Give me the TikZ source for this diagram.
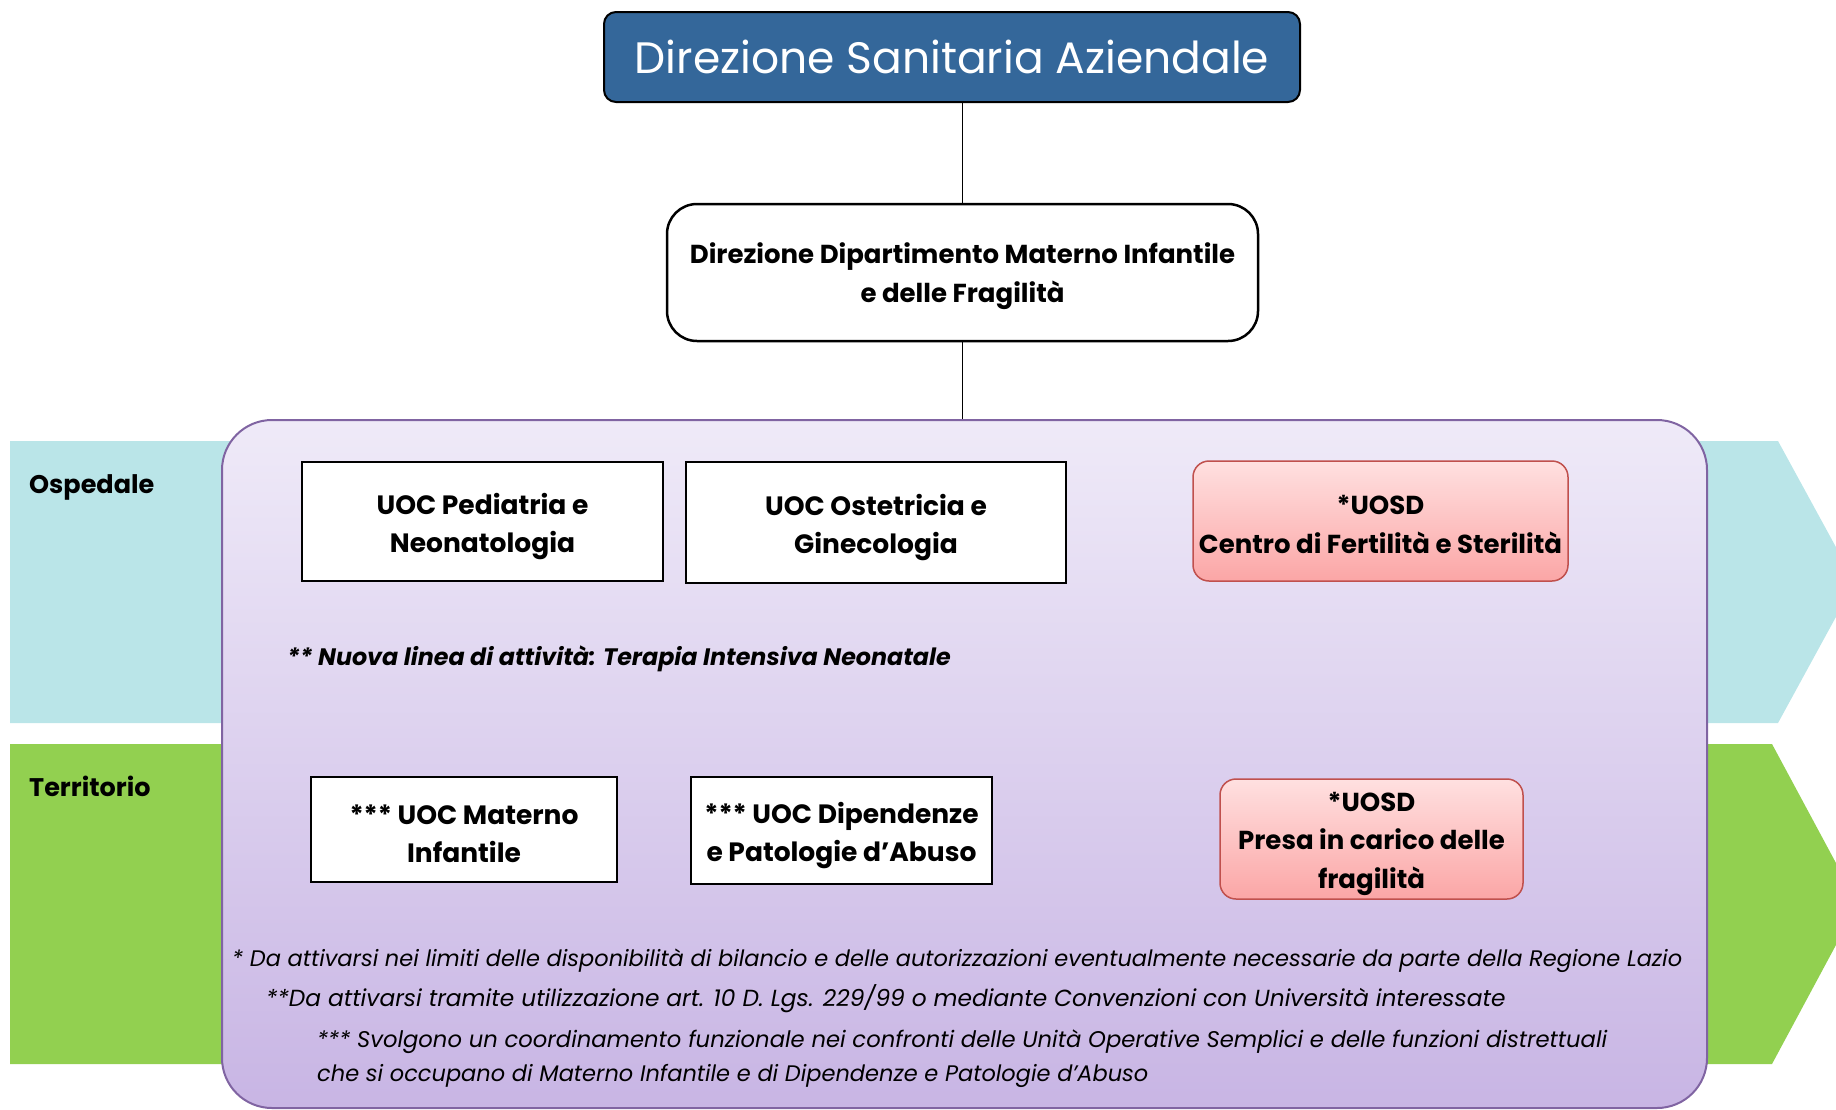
\documentclass[tikz,border=0pt]{standalone}
\usepackage{fontspec}
\setmainfont{Poppins}
\usetikzlibrary{calc}
\definecolor{titleblue}{HTML}{34679A}
\definecolor{cyanband}{HTML}{BAE5E8}
\definecolor{greenband}{HTML}{92D050}
\definecolor{purpletop}{HTML}{EFEAF8}
\definecolor{purplebot}{HTML}{C8B5E4}
\definecolor{purpleline}{HTML}{8064A2}
\definecolor{redtop}{HTML}{FFE0E0}
\definecolor{redbot}{HTML}{FBA6A6}
\definecolor{redline}{HTML}{C0504D}
\tikzset{
  titlebox/.style={draw=black, line width=2pt, fill=titleblue, rounded corners=12pt, text=white, font=\fontsize{44}{50}\selectfont, inner sep=0pt},
  deptbox/.style={draw=black, line width=2.5pt, fill=white, rounded corners=30pt, inner sep=0pt},
  uocbox/.style={draw=black, line width=2.5pt, fill=white, inner sep=0pt},
  uosdbox/.style={draw=redline, line width=1.5pt, top color=redtop, bottom color=redbot, rounded corners=16pt, inner sep=0pt},
  boxtext/.style={align=center, font=\bfseries\fontsize{26.5}{38}\selectfont, inner sep=0pt},
  bandlabel/.style={anchor=west, font=\bfseries\fontsize{25.5}{30}\selectfont, inner sep=0pt},
  note/.style={anchor=west, font=\itshape\fontsize{22.5}{26}\selectfont, inner sep=0pt},
  link/.style={draw=black, line width=1.3pt}
}
\begin{document}
\begin{tikzpicture}[x=1pt,y=-1pt]
\useasboundingbox (0,0) rectangle (1836,1109);
\clip (0,0) rectangle (1836,1109);
% bands
\fill[cyanband] (10,441) -- (1778,441) -- (1855,582) -- (1778,723) -- (10,723) -- cycle;
\fill[greenband] (10,744) -- (1772,744) -- (1858,904) -- (1772,1064) -- (10,1064) -- cycle;
\node[bandlabel] (osp) at (29,487) {Ospedale};
\node[bandlabel] (ter) at (29,786) {Territorio};
% container
\node[draw=purpleline, line width=2pt, top color=purpletop, bottom color=purplebot, rounded corners=50pt, minimum width=1485pt, minimum height=688pt, inner sep=0pt] (cont) at (964.5,764) {};
% top boxes
\node[titlebox, minimum width=696pt, minimum height=90pt] (dsa) at (952,57) {Direzione Sanitaria Aziendale};
\node[deptbox, minimum width=591pt, minimum height=137pt] (dip) at (962.5,272.5) {};
\node[boxtext, font=\bfseries\fontsize{26}{39}\selectfont] (dipT) at ($(dip.center)+(0,4)$) {Direzione Dipartimento Materno Infantile\\e delle Fragilità};
\draw[link] (dsa.south -| dip.north) -- (dip.north);
\draw[link] (dip.south) -- (dip.south |- cont.north);
% ospedale row
\node[uocbox, minimum width=361pt, minimum height=119pt] (ped) at (482.5,521.5) {};
\node[boxtext] (pedT) at ($(ped.center)+(0,5.5)$) {UOC Pediatria e\\Neonatologia};
\node[uocbox, minimum width=380pt, minimum height=121pt] (ost) at (876,522.5) {};
\node[boxtext] (ostT) at ($(ost.center)+(0,5.5)$) {UOC Ostetricia e\\Ginecologia};
\node[uosdbox, minimum width=375pt, minimum height=120pt] (fert) at (1380.5,521) {};
\node[boxtext, font=\bfseries\fontsize{26}{39}\selectfont] (fertT) at ($(fert.center)+(0,3.5)$) {*UOSD\\Centro di Fertilità e Sterilità};
\node[anchor=west, font=\bfseries\itshape\fontsize{23.8}{28}\selectfont, inner sep=0pt] (tin) at (287,659) {** Nuova linea di attività: Terapia Intensiva Neonatale};
% territorio row
\node[uocbox, minimum width=306pt, minimum height=105pt] (mat) at (464,829.5) {};
\node[boxtext] (matT) at ($(mat.center)+(0,4)$) {*** UOC Materno\\Infantile};
\node[uocbox, minimum width=301pt, minimum height=107pt] (dipe) at (841.5,830.5) {};
\node[boxtext] (dipeT) at ($(dipe.center)+(0,5.5)$) {*** UOC Dipendenze\\e Patologie d’Abuso};
\node[uosdbox, minimum width=303pt, minimum height=120pt] (frag) at (1371.5,839) {};
\node[boxtext, font=\bfseries\fontsize{26}{38.5}\selectfont] (fragT) at ($(frag.center)+(0,4.5)$) {*UOSD\\Presa in carico delle\\fragilità};
% notes
\node[note] (n1) at (232,961) {* Da attivarsi nei limiti delle disponibilità di bilancio e delle autorizzazioni eventualmente necessarie da parte della Regione Lazio};
\node[note, font=\itshape\fontsize{23.3}{26}\selectfont] (n2) at (266,999) {**Da attivarsi tramite utilizzazione art. 10 D. Lgs. 229/99 o mediante Convenzioni con Università interessate};
\node[note, font=\itshape\fontsize{22.7}{26}\selectfont] (n3) at (317,1042) {*** Svolgono un coordinamento funzionale nei confronti delle Unità Operative Semplici e delle funzioni distrettuali};
\node[note] (n4) at (317,1076) {che si occupano di Materno Infantile e di Dipendenze e Patologie d’Abuso};
\end{tikzpicture}
\end{document}
